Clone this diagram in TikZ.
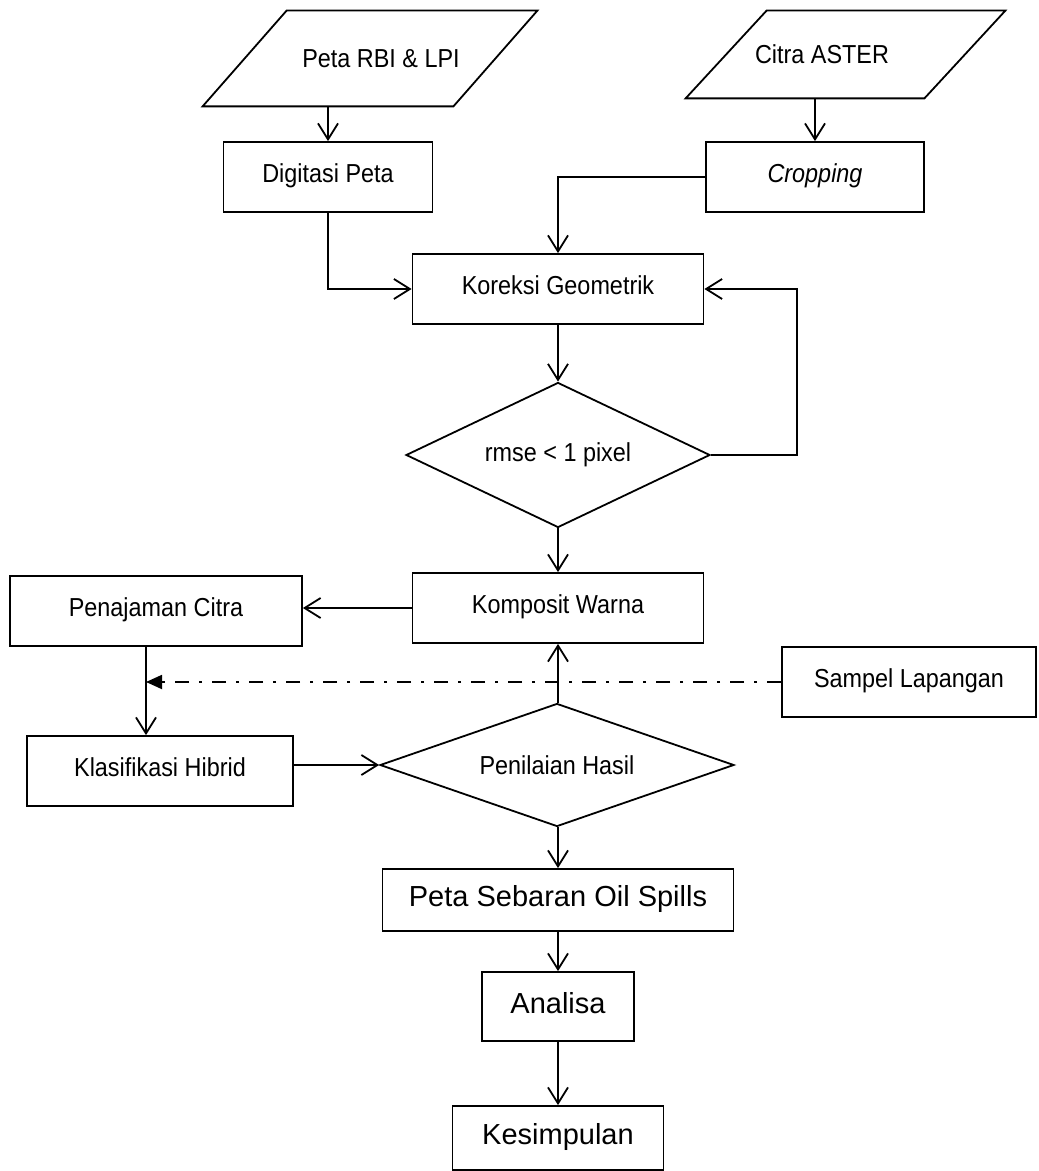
\documentclass[tikz,border=0pt]{standalone}
\usepackage{fontspec}
\setmainfont{Liberation Sans}
\newfontfamily\boxfont[FakeStretch=0.9]{Liberation Sans}
\usepackage{tikz}
\usetikzlibrary{arrows.meta,shapes.geometric}

\begin{document}
\begin{tikzpicture}[x=0.5pt,y=-0.5pt]

\tikzset{process/.style={draw, line width=.9pt, rectangle, inner sep=0pt, text depth=4pt,
                         minimum height=35pt, font=\boxfont\fontsize{13}{15}\selectfont},
         bigprocess/.style={process, font=\fontsize{14.5}{17}\selectfont},
         data/.style={rectangle, inner sep=0pt, font=\boxfont\fontsize{13}{15}\selectfont},
         decision/.style={draw, line width=.9pt, diamond, inner sep=0pt,
                          font=\boxfont\fontsize{13}{15}\selectfont},
         outline/.style={line width=.9pt, line join=miter},
         flow/.style={line width=.9pt, -{Straight Barb[length=8pt,width=10pt]}},
         sample/.style={line width=.9pt, dash pattern=on 7pt off 5pt on 1.5pt off 5pt,
                        -{Triangle[length=8pt,width=7pt]}}}

\useasboundingbox (0,0) rectangle (1038,1171);

\node[data, minimum width=125pt, minimum height=47.5pt] (peta) at (381,58.5) {Peta RBI \& LPI};
\node[data, minimum width=119pt, minimum height=43.5pt] (citra) at (822,54.5) {Citra ASTER};
\draw[outline] ([xshift=-26.5pt]peta.south west) -- ([xshift=15.5pt]peta.north west)
            -- ([xshift=15.5pt]peta.north east) -- ([xshift=-26.5pt]peta.south east) -- cycle;
\draw[outline] ([xshift=-8.5pt]citra.south west) -- ([xshift=32pt]citra.north west)
            -- ([xshift=32pt]citra.north east) -- ([xshift=-8.5pt]citra.south east) -- cycle;
\node[process, minimum width=104.5pt] (digitasi) at (328,177) {Digitasi Peta};
\node[process, minimum width=109pt] (cropping) at (815,177) {\textit{Cropping}};
\node[process, minimum width=145.5pt] (koreksi) at (558,289) {Koreksi Geometrik};
\node[decision, aspect=2.1, minimum width=152pt, minimum height=72.5pt] (rmse) at (558,455) {rmse < 1 pixel};
\node[process, minimum width=145.5pt] (komposit) at (558,608) {Komposit Warna};
\node[process, minimum width=146pt] (penajaman) at (156,611) {Penajaman Citra};
\node[process, minimum width=127pt] (sampel) at (909,682) {Sampel Lapangan};
\node[process, minimum width=133pt] (klasifikasi) at (160,771) {Klasifikasi Hibrid};
\node[decision, aspect=2.9, minimum width=177pt, minimum height=61.5pt] (penilaian) at (557,765) {Penilaian Hasil};
\node[bigprocess, minimum width=175.5pt, minimum height=31pt] (sebaran) at (558,900) {Peta Sebaran Oil Spills};
\node[bigprocess, minimum width=76pt, minimum height=34.5pt] (analisa) at (558,1006.5) {Analisa};
\node[bigprocess, minimum width=105.5pt, minimum height=32pt] (kesimpulan) at (558,1138) {Kesimpulan};

\coordinate (join) at ([xshift=-5pt]penajaman.south |- sampel.west);

\draw[flow] (digitasi.north |- peta.south) -- (digitasi.north);
\draw[flow] (cropping.north |- citra.south) -- (cropping.north);
\draw[flow] (cropping.west) -| (koreksi.north);
\draw[flow] (digitasi.south) |- (koreksi.west);
\draw[flow] (koreksi) -- (rmse);
\draw[flow] (rmse.east) -- ++(86,0) |- (koreksi.east);
\draw[flow] (rmse) -- (komposit);
\draw[flow] (komposit.west) -- (komposit.west -| penajaman.east);
\draw[flow] ([xshift=-5pt]penajaman.south) -- ([xshift=-5pt]penajaman.south |- klasifikasi.north);
\draw[sample] (sampel.west) -- (join);
\draw[flow] (klasifikasi.east |- penilaian.west) -- (penilaian.west);
\draw[flow] (komposit.south |- penilaian.north) -- (komposit.south);
\draw[flow] (sebaran.north |- penilaian.south) -- (sebaran);
\draw[flow] (sebaran) -- (analisa);
\draw[flow] (analisa) -- (kesimpulan);

\end{tikzpicture}
\end{document}
